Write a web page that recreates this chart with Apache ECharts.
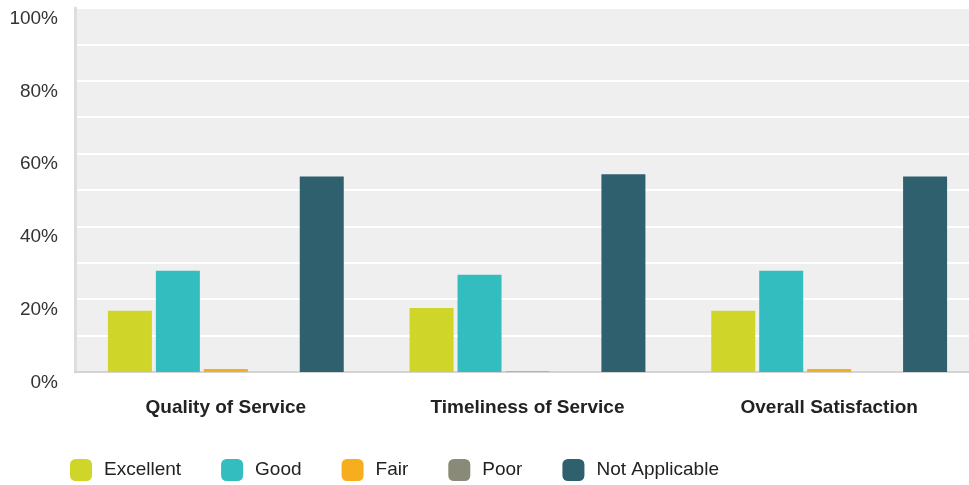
<!DOCTYPE html>
<html>
<head>
<meta charset="utf-8">
<script src="https://cdn.jsdelivr.net/npm/echarts@6/dist/echarts.min.js"></script>
<style>
html,body{margin:0;padding:0;background:#fff;overflow:hidden;}
#chart{width:980px;height:485px;}
</style>
</head>
<body>
<div id="chart"></div>
<script>
var categories = ['Quality of Service', 'Timeliness of Service', 'Overall Satisfaction'];
var seriesNames = ['Excellent', 'Good', 'Fair', 'Poor', 'Not Applicable'];
var excellent = [16.8, 17.6, 16.8];
var good = [27.8, 26.7, 27.8];
var fair = [0.8, 0.3, 0.8];
var poor = [0, 0, 0];
var notApplicable = [53.7, 54.3, 53.7];
var colors = ['#d0d52a', '#34bdbf', '#f6ae1f', '#8a8a78', '#2f606d'];

var values = [excellent, good, fair, poor, notApplicable];
var chart = echarts.init(document.getElementById('chart'), null, {renderer: 'canvas'});
chart.setOption({
  animation: false,
  color: colors,
  textStyle: {fontFamily: 'Liberation Sans, Arial, sans-serif'},
  grid: {left: 75, right: 0, top: 8, bottom: 113, show: true, backgroundColor: '#efefef', borderWidth: 0},
  legend: {
    left: 65, top: 454, itemWidth: 22, itemHeight: 22, itemGap: 40, icon: 'roundRect',
    textStyle: {fontSize: 19, color: '#222', padding: [0, 0, 0, 7]},
    data: seriesNames
  },
  xAxis: {
    type: 'category', data: categories,
    axisLine: {show: true, lineStyle: {color: '#d4d4d4', width: 2}},
    axisTick: {show: false},
    axisLabel: {fontSize: 19, fontWeight: 'bold', color: '#222', margin: 26}
  },
  yAxis: {
    type: 'value', min: 0, max: 100, interval: 10,
    axisLine: {show: true, lineStyle: {color: '#dedede', width: 3}},
    axisTick: {show: false},
    splitLine: {show: true, lineStyle: {color: '#ffffff', width: 2}},
    axisLabel: {
      fontSize: 19, color: '#333', margin: 17, verticalAlign: 'top', padding: [1, 0, 0, 0],
      formatter: function (v) { return v % 20 === 0 ? v + '%' : ''; }
    }
  },
  series: seriesNames.map(function (n, i) {
    return {name: n, type: 'bar', data: values[i], barWidth: 44, barGap: '9%', barCategoryGap: '22%'};
  })
});
</script>
</body>
</html>
